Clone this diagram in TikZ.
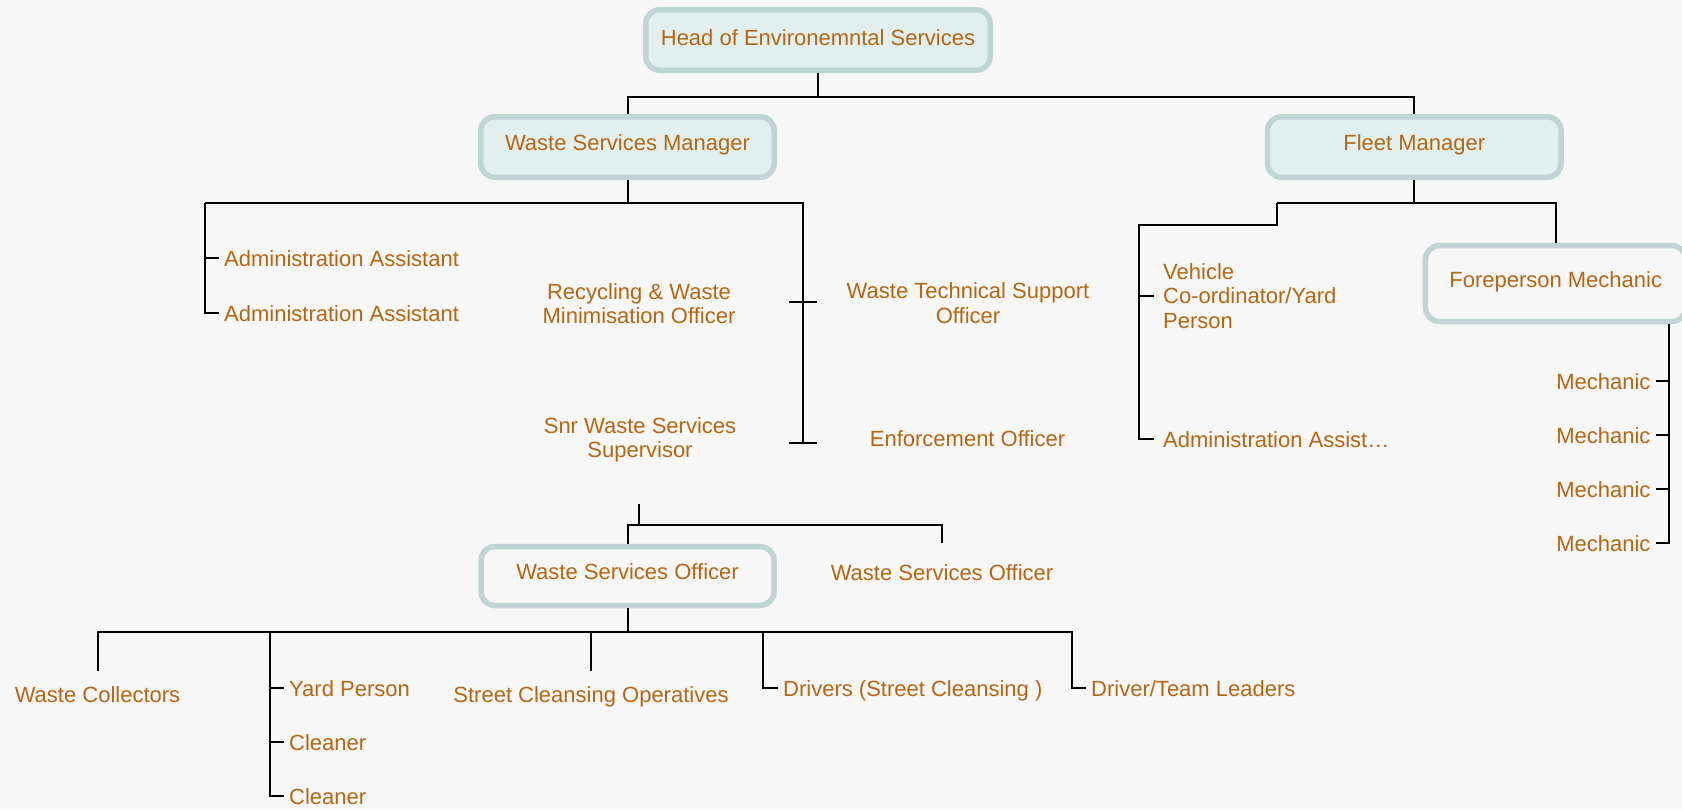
\documentclass[tikz,border=0pt]{standalone}
\usepackage{fontspec}
\setmainfont{Liberation Sans}
\usepackage{tikz}
\definecolor{bgcol}{HTML}{F7F7F7}
\definecolor{txtcol}{RGB}{182,102,16}
\definecolor{boxfill}{HTML}{E1F0EF}
\definecolor{boxline}{HTML}{BFD4D3}
\tikzset{
    txt/.style={font=\fontsize{22}{24.5}\selectfont, text=txtcol, inner sep=5pt, text height=16pt, text depth=0pt},
    twoline/.style={font=\fontsize{22}{24.5}\selectfont, text=txtcol, inner sep=5pt, align=center},
    rolebox/.style={txt, text depth=9pt, draw=boxline, line width=5.5pt, rounded corners=14pt, fill=boxfill},
    openbox/.style={rolebox, fill=bgcol},
    link/.style={line width=2pt, black}
}

\begin{document}
\begin{tikzpicture}[x=1pt,y=-1pt]
\useasboundingbox[fill=bgcol] (0,0) rectangle (1682,809); % page

%%% BOXES %%%
\node[rolebox,text depth=6pt,minimum width=344.5pt,minimum height=60.5pt] (HE) at (818,40) {Head of Environemntal Services};
\node[rolebox,minimum width=293.5pt,minimum height=60.5pt] (WM) at (627.5,147) {Waste Services Manager};
\node[rolebox,minimum width=293.5pt,minimum height=60.5pt] (FM) at (1414.3,147) {Fleet Manager};
\node[openbox,minimum width=293pt,minimum height=59pt] (WO) at (627.5,576) {Waste Services Officer};
\node[openbox,minimum width=260.5pt,minimum height=76pt] (FP) at (1555.7,283.5) {Foreperson Mechanic};

%%% PLAIN ROLES %%%
\node[txt,anchor=west] (AA1) at (219,258) {Administration Assistant}; % admin 1
\node[txt,anchor=west] (AA2) at (219,313) {Administration Assistant}; % admin 2
\node[twoline] (RW) at (639,303.7) {Recycling \& Waste\\Minimisation Officer}; % recycling
\node[twoline] (SN) at (640,440) {Snr Waste Services\\Supervisor}; % supervisor
\node[twoline] (WT) at (968,303.3) {Waste Technical Support\\Officer}; % technical
\node[txt] (EO) at (967.5,438) {Enforcement Officer}; % enforcement
\node[txt,minimum height=58pt] (WO2) at (942,572) {Waste Services Officer}; % second officer
\node[twoline,align=left,anchor=west,inner xsep=9pt] (VC) at (1154,296) {Vehicle\\Co-ordinator/Yard\\Person}; % vehicle
\node[txt,anchor=west,inner xsep=9pt] (FA) at (1154,439) {Administration Assist…}; % fleet admin
\foreach \y [count=\i] in {381,435,489,543}
    \node[txt,anchor=east] (MC\i) at (1655.7,\y) {Mechanic}; % mechanics

%%% BOTTOM ROW %%%
\node[txt,minimum height=46pt] (WC) at (97.5,694) {Waste Collectors};
\node[txt,anchor=west] (YP) at (284,688) {Yard Person};
\node[txt,anchor=west] (CL1) at (284,742) {Cleaner};
\node[txt,anchor=west] (CL2) at (284,796) {Cleaner};
\node[txt,minimum height=46pt] (SC) at (591,694) {Street Cleansing Operatives};
\node[txt,anchor=west] (DR) at (778,688) {Drivers (Street Cleansing )};
\node[txt,anchor=west] (DT) at (1086,688) {Driver/Team Leaders};

%%% TOP LINKS %%%
\coordinate (HB) at (818,97); % bus under head
\draw[link] (HE) -- (HB);
\draw[link] (WM.north) |- (HB) -| (FM.north);

%%% WASTE SERVICES MANAGER LINKS %%%
\coordinate (WB) at (627.5,203); % bus
\coordinate (WL) at (205.3,203); % left end
\coordinate (WR) at (803.3,203); % right end
\coordinate (WT1) at (803.3,302.3); % upper cross
\coordinate (WT2) at (803.3,443.3); % lower cross
\draw[link] (WM) -- (WB);
\draw[link] (WL) -- (WR) -- (WT2);
\draw[link] (WL) |- (AA2.west);
\draw[link] (AA1.west) -- (AA1.west -| WL);
\draw[link] ([xshift=-14pt]WT1) -- ([xshift=14pt]WT1);
\draw[link] ([xshift=-14pt]WT2) -- ([xshift=14pt]WT2);

%%% SUPERVISOR LINKS %%%
\coordinate (ST) at (639,504); % stub top
\coordinate (SB) at (639,525); % bus
\draw[link] (ST) -- (SB);
\draw[link] (WO.north) |- (SB) -| (WO2.north);

%%% OFFICER LINKS %%%
\coordinate (OB) at (627.5,631.7); % bus
\coordinate (OL) at (97.5,631.7); % left end
\coordinate (OR) at (1072.2,631.7); % right end
\coordinate (O2) at (270,631.7); % yard branch
\coordinate (O3) at (763.3,631.7); % drivers branch
\draw[link] (WO) -- (OB);
\draw[link] (WC.north) -- (OL) -- (OR) |- (DT.west);
\draw[link] (O2) |- (CL2.west);
\draw[link] (YP.west) -- (YP.west -| O2);
\draw[link] (CL1.west) -- (CL1.west -| O2);
\draw[link] (SC.north) -- (SC.north |- OB);
\draw[link] (O3) |- (DR.west);

%%% FLEET LINKS %%%
\coordinate (FB) at (1414.3,203); % bus
\coordinate (FS) at (1276.7,203); % step top
\coordinate (FL) at (1139.3,225); % step corner
\coordinate (MV) at (1669.3,324.3); % mechanics line top
\draw[link] (FM) -- (FB);
\draw[link] (FS) -- (FB) -| (FP.north);
\draw[link] (FS) |- (FL) |- (FA.west);
\draw[link] (VC.west) -- (VC.west -| FL);
\draw[link] (MV) |- (MC4.east);
\foreach \i in {1,2,3}
    \draw[link] (MC\i.east) -- (MC\i.east -| MV);
\end{tikzpicture}
\end{document}
